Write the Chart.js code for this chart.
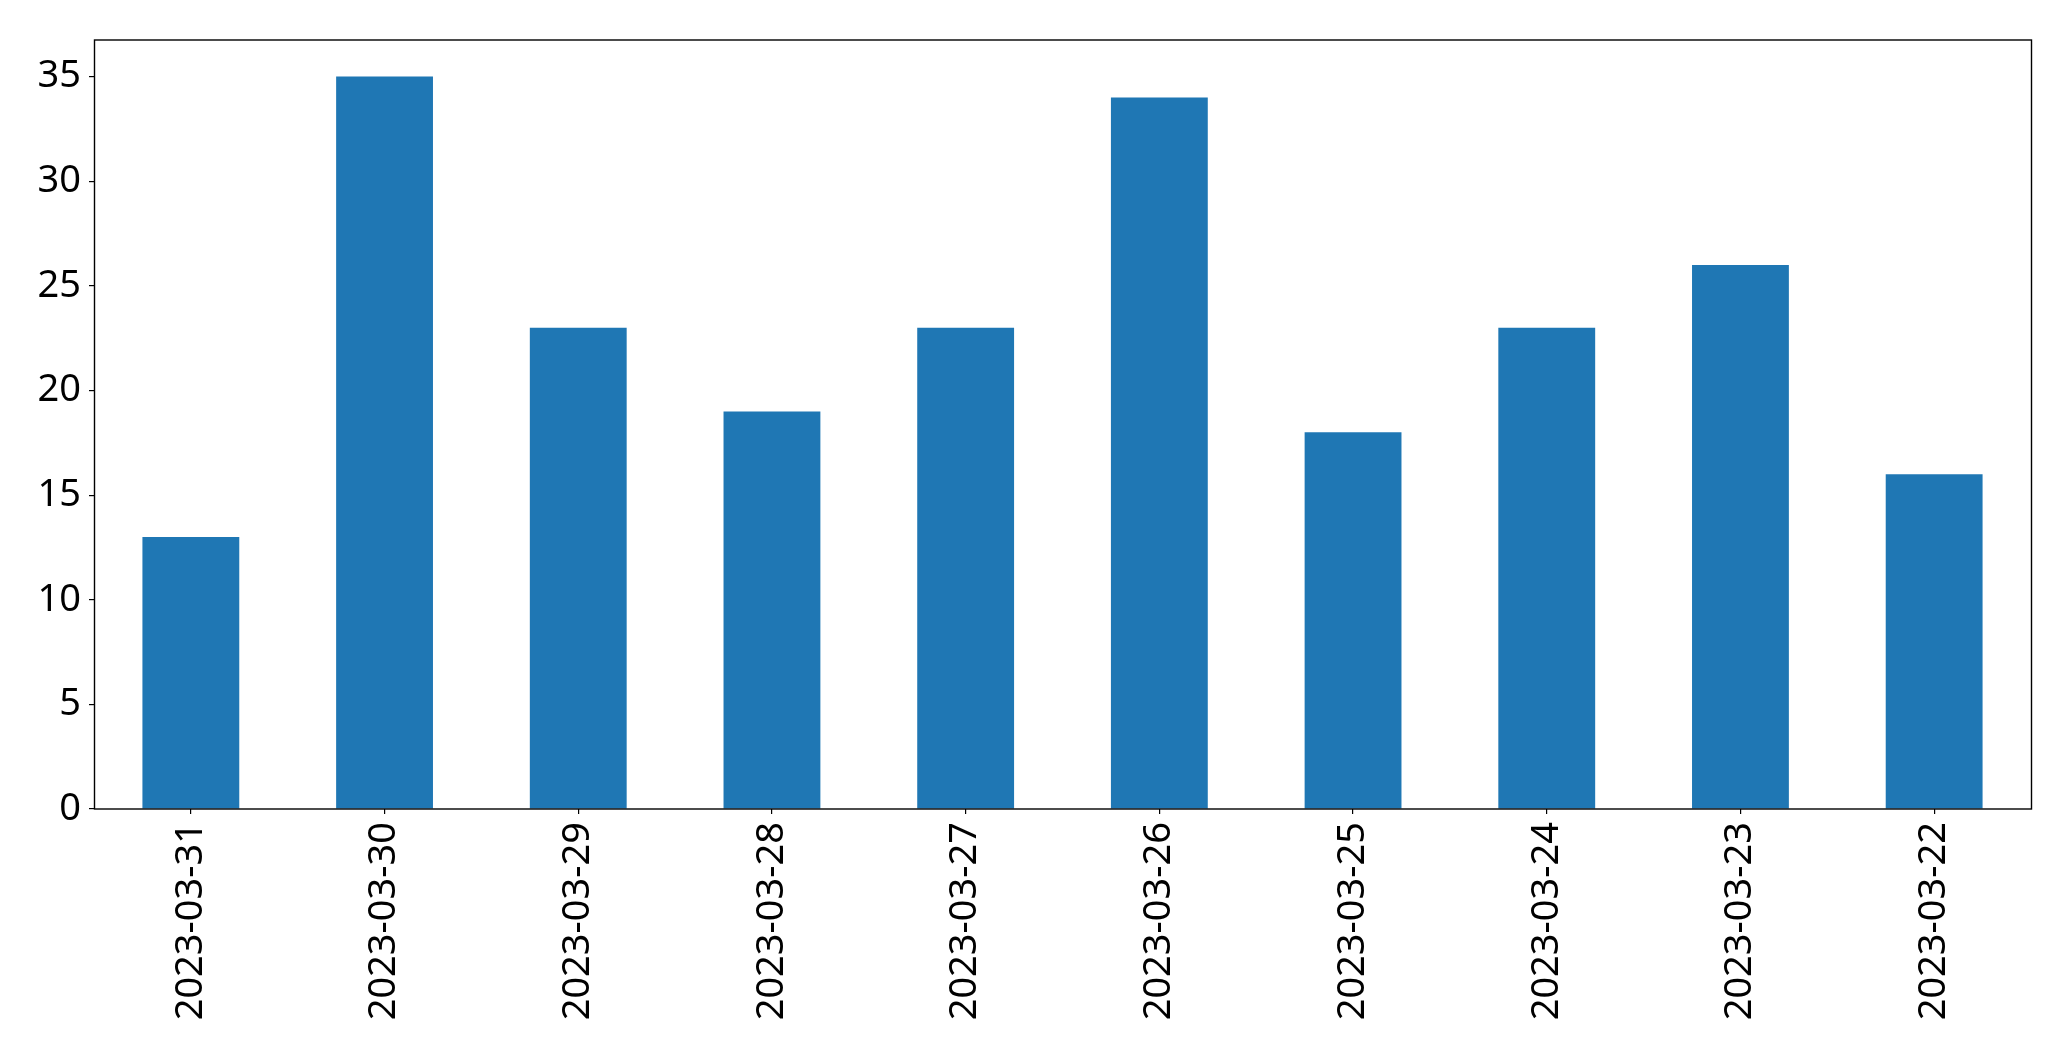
<!DOCTYPE html>
<html>
<head>
<meta charset="utf-8">
<script src="https://cdn.jsdelivr.net/npm/chart.js@4.4.0/dist/chart.umd.min.js"></script>
<style>
  html, body { margin: 0; padding: 0; background: #fff; }
  canvas { display: block; }
</style>
</head>
<body>
<canvas id="barChart" width="2071" height="1061"></canvas>
<script>
const dates = ['2023-03-31', '2023-03-30', '2023-03-29', '2023-03-28', '2023-03-27',
               '2023-03-26', '2023-03-25', '2023-03-24', '2023-03-23', '2023-03-22'];
const counts = [13, 35, 23, 19, 23, 34, 18, 23, 26, 16];
const yTicks = [0, 5, 10, 15, 20, 25, 30, 35];

// рамка вокруг области графика, как в matplotlib
const frame = {
    id: 'frame',
    afterDraw(chart) {
        const { ctx, chartArea: a } = chart;
        ctx.save();
        ctx.strokeStyle = '#000';
        ctx.lineWidth = 1.4;
        ctx.strokeRect(a.left + 0.5, a.top, a.right - a.left, a.bottom - a.top);
        ctx.restore();
    }
};

new Chart(document.getElementById('barChart'), {
    type: 'bar',
    data: {
        labels: dates,
        datasets: [{
            data: counts,
            backgroundColor: '#1f77b4',
            categoryPercentage: 1.0,
            barPercentage: 0.5
        }]
    },
    options: {
        responsive: false,
        animation: false,
        layout: { padding: { top: 40, right: 40, left: 0, bottom: 0 } },
        plugins: { legend: { display: false }, tooltip: { enabled: false } },
        scales: {
            x: {
                offset: true,
                grid: { display: true, offset: false, drawOnChartArea: false, tickLength: 5, color: '#000', lineWidth: 1.2 },
                border: { display: false },
                ticks: {
                    color: '#000',
                    font: { family: 'Noto Sans', size: 38 },
                    maxRotation: 90,
                    minRotation: 90,
                    padding: 8,
                    autoSkip: false
                },
                afterFit: s => { s.height = 252; }
            },
            y: {
                min: 0,
                max: 36.75,
                grid: { display: true, drawOnChartArea: false, tickLength: 5, color: '#000', lineWidth: 1.2 },
                border: { display: false },
                afterBuildTicks: s => { s.ticks = yTicks.map(v => ({ value: v })); },
                ticks: {
                    color: '#000',
                    font: { family: 'Noto Sans', size: 38 },
                    padding: 8
                },
                afterFit: s => { s.width = 94; }
            }
        }
    },
    plugins: [frame]
});
</script>
</body>
</html>
